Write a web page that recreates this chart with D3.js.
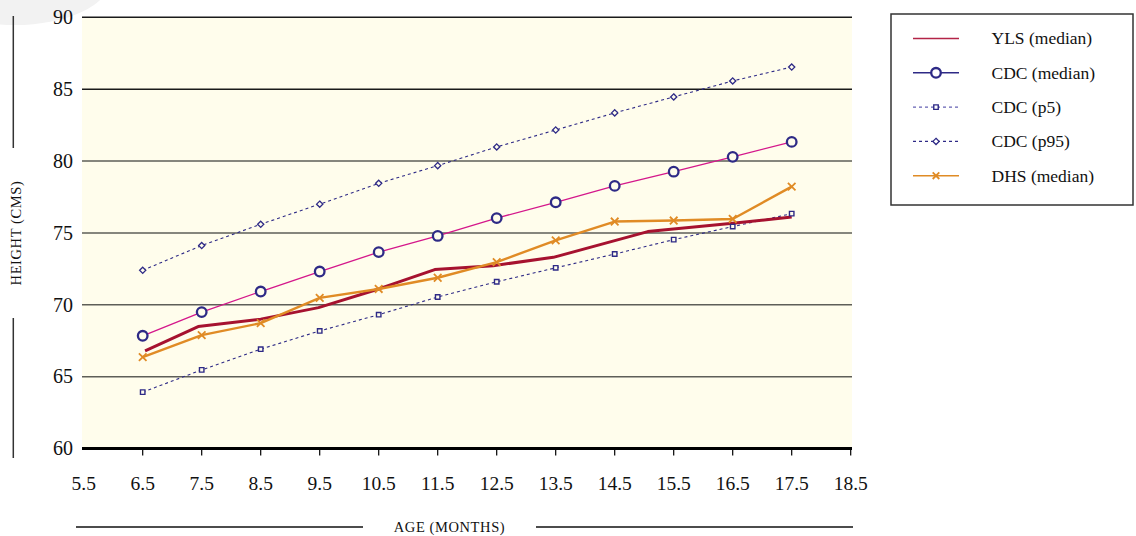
<!DOCTYPE html>
<html><head><meta charset="utf-8">
<script src="https://cdn.jsdelivr.net/npm/d3@7/dist/d3.min.js"></script>
<style>
html,body{margin:0;padding:0;background:#fff;}
svg{display:block;font-family:"Liberation Serif","Times New Roman",serif;}
</style></head>
<body>
<svg id="c" width="1136" height="536"></svg>
<script>
// ---- data ----
const ages = [6.5, 7.5, 8.5, 9.5, 10.5, 11.5, 12.5, 13.5, 14.5, 15.5, 16.5, 17.5];
const cdcMedian = [67.84, 69.49, 70.92, 72.31, 73.66, 74.79, 76.03, 77.13, 78.27, 79.26, 80.29, 81.33];
const cdcP5 = [63.92, 65.47, 66.91, 68.18, 69.31, 70.54, 71.60, 72.57, 73.53, 74.53, 75.44, 76.34];
const cdcP95 = [72.40, 74.12, 75.60, 77.00, 78.45, 79.68, 80.98, 82.16, 83.35, 84.46, 85.57, 86.54];
const dhsMedian = [66.36, 67.89, 68.72, 70.48, 71.10, 71.88, 72.97, 74.48, 75.79, 75.86, 75.97, 78.22];
const ylsAges = [6.54, 7.44, 8.5, 9.48, 10.5, 11.45, 12.44, 13.46, 15.06, 16.5, 17.5];
const ylsMedian = [66.80, 68.48, 69.00, 69.80, 71.10, 72.45, 72.72, 73.30, 75.09, 75.67, 76.10];
const xTicks = [5.5, 6.5, 7.5, 8.5, 9.5, 10.5, 11.5, 12.5, 13.5, 14.5, 15.5, 16.5, 17.5, 18.5];
const yTicks = [60, 65, 70, 75, 80, 85, 90];
const legendLabels = ["YLS (median)", "CDC (median)", "CDC (p5)", "CDC (p95)", "DHS (median)"];
const xTitle = "AGE (MONTHS)";
const yTitle = "HEIGHT (CMS)";

// ---- layout ----
const svg = d3.select("#c");
const plotL = 82, plotR = 852, plotT = 17.3, plotB = 448.5;
const x = d3.scaleLinear().domain([5.5, 18.5]).range([83.7, 850.7]);
const y = d3.scaleLinear().domain([60, 90]).range([plotB, plotT]);

const NAVY = "#2e2a86", MAG = "#d4178b", RED = "#a6122f", ORANGE = "#e08b25";

// decorative grey blob top-left
svg.append("ellipse").attr("cx", 15).attr("cy", -20).attr("rx", 95).attr("ry", 45).attr("fill", "#f2f2f2");

// plot background
svg.append("rect").attr("x", plotL).attr("y", plotT).attr("width", plotR - plotL).attr("height", plotB - plotT)
  .attr("fill", "#fffdec");

// gridlines
svg.append("g").selectAll("line").data(yTicks.filter(d => d > 60)).join("line")
  .attr("x1", plotL).attr("x2", plotR)
  .attr("y1", d => y(d)).attr("y2", d => y(d))
  .attr("stroke", d => d >= 85 ? "#1a1a1a" : "#5e5e58").attr("stroke-width", 1.5);

// baseline
svg.append("line").attr("x1", plotL).attr("x2", plotR).attr("y1", y(60)).attr("y2", y(60))
  .attr("stroke", "#000").attr("stroke-width", 3);

// x ticks
svg.append("g").selectAll("line").data(xTicks.filter(d => d > 5.5)).join("line")
  .attr("x1", d => x(d)).attr("x2", d => x(d))
  .attr("y1", y(60)).attr("y2", y(60) + 7)
  .attr("stroke", "#000").attr("stroke-width", 1.2);

// x tick labels
svg.append("g").selectAll("text").data(xTicks).join("text")
  .attr("x", d => x(d)).attr("y", 490)
  .attr("text-anchor", "middle").attr("font-size", 19.5).attr("fill", "#111")
  .text(d => d.toFixed(1));

// y tick labels
svg.append("g").selectAll("text").data(yTicks).join("text")
  .attr("x", 73).attr("y", d => y(d) + 6.8)
  .attr("text-anchor", "end").attr("font-size", 20).attr("fill", "#111")
  .text(d => d);

// y title + side rules
svg.append("line").attr("x1", 13.3).attr("x2", 13.3).attr("y1", 16).attr("y2", 148).attr("stroke", "#333").attr("stroke-width", 1.5);
svg.append("line").attr("x1", 13.3).attr("x2", 13.3).attr("y1", 318).attr("y2", 458).attr("stroke", "#333").attr("stroke-width", 1.5);
svg.append("text").attr("transform", "translate(21,233) rotate(-90)")
  .attr("text-anchor", "middle").attr("font-size", 14.5).attr("letter-spacing", 0.6).attr("fill", "#111")
  .text(yTitle);

// x title + rules
svg.append("line").attr("x1", 76).attr("x2", 363).attr("y1", 527).attr("y2", 527).attr("stroke", "#111").attr("stroke-width", 1.5);
svg.append("line").attr("x1", 536).attr("x2", 853).attr("y1", 527).attr("y2", 527).attr("stroke", "#111").attr("stroke-width", 1.5);
svg.append("text").attr("x", 449.5).attr("y", 531.5)
  .attr("text-anchor", "middle").attr("font-size", 14.5).attr("letter-spacing", 0.6).attr("fill", "#111")
  .text(xTitle);

// ---- series ----
const line = d3.line().x(d => x(d[0])).y(d => y(d[1]));
const zip = (a, b) => a.map((v, i) => [v, b[i]]);

const gS = svg.append("g");
// CDC p95
gS.append("path").datum(zip(ages, cdcP95)).attr("d", line).attr("fill", "none")
  .attr("stroke", NAVY).attr("stroke-width", 1.1).attr("stroke-dasharray", "3,3");
// CDC p5
gS.append("path").datum(zip(ages, cdcP5)).attr("d", line).attr("fill", "none")
  .attr("stroke", NAVY).attr("stroke-width", 1.1).attr("stroke-dasharray", "3,3");
// CDC median
gS.append("path").datum(zip(ages, cdcMedian)).attr("d", line).attr("fill", "none")
  .attr("stroke", MAG).attr("stroke-width", 1.3);
// YLS
gS.append("path").datum(zip(ylsAges, ylsMedian)).attr("d", line).attr("fill", "none")
  .attr("stroke", RED).attr("stroke-width", 3).attr("stroke-linejoin", "round");
// DHS
gS.append("path").datum(zip(ages, dhsMedian)).attr("d", line).attr("fill", "none")
  .attr("stroke", ORANGE).attr("stroke-width", 2.4).attr("stroke-linejoin", "round");

// markers
const squareSym = d3.symbol().type(d3.symbolSquare).size(20);
const diamondPath = "M0,-3.1L3.1,0L0,3.1L-3.1,0Z";
gS.append("g").selectAll("path").data(zip(ages, cdcP95)).join("path")
  .attr("transform", d => `translate(${x(d[0])},${y(d[1])})`).attr("d", diamondPath)
  .attr("fill", "#fffdec").attr("stroke", NAVY).attr("stroke-width", 1.3);
gS.append("g").selectAll("path").data(zip(ages, cdcP5)).join("path")
  .attr("transform", d => `translate(${x(d[0])},${y(d[1])})`).attr("d", squareSym)
  .attr("fill", "#fffdec").attr("stroke", NAVY).attr("stroke-width", 1.4);
gS.append("g").selectAll("circle").data(zip(ages, cdcMedian)).join("circle")
  .attr("cx", d => x(d[0])).attr("cy", d => y(d[1])).attr("r", 4.8)
  .attr("fill", "#fffdec").attr("stroke", NAVY).attr("stroke-width", 2.3);
const xMark = (g, s) => g.append("path").attr("d", `M${-s},${-s}L${s},${s}M${-s},${s}L${s},${-s}`)
  .attr("stroke", ORANGE).attr("stroke-width", 1.8).attr("fill", "none");
gS.append("g").selectAll("g").data(zip(ages, dhsMedian)).join("g")
  .attr("transform", d => `translate(${x(d[0])},${y(d[1])})`)
  .each(function() { xMark(d3.select(this), 3.8); });

// ---- legend ----
const lg = svg.append("g");
lg.append("rect").attr("x", 891).attr("y", 14).attr("width", 242).attr("height", 191)
  .attr("fill", "#fff").attr("stroke", "#333").attr("stroke-width", 1.5);
const rowY = i => 38.5 + i * 34.3;
const lx1 = 913, lx2 = 959, lmx = 936;
const legStyles = [
  {stroke: "#b32447", dash: null, w: 1.5},
  {stroke: NAVY, dash: null, w: 1.5},
  {stroke: "#6662b4", dash: "3,3", w: 1.3},
  {stroke: NAVY, dash: "3,3", w: 1.1},
  {stroke: ORANGE, dash: null, w: 1.5}
];
legendLabels.forEach((lab, i) => {
  const ry = rowY(i);
  lg.append("line").attr("x1", lx1).attr("x2", lx2).attr("y1", ry).attr("y2", ry)
    .attr("stroke", legStyles[i].stroke).attr("stroke-width", legStyles[i].w)
    .attr("stroke-dasharray", legStyles[i].dash);
  lg.append("text").attr("x", 991.5).attr("y", ry + 5.8).attr("font-size", 17.5).attr("fill", "#111").text(lab);
});
lg.append("circle").attr("cx", lmx).attr("cy", rowY(1)).attr("r", 4.8)
  .attr("fill", "#fff").attr("stroke", NAVY).attr("stroke-width", 2.3);
lg.append("path").attr("transform", `translate(${lmx},${rowY(2)})`).attr("d", squareSym)
  .attr("fill", "#fff").attr("stroke", NAVY).attr("stroke-width", 1.4);
lg.append("path").attr("transform", `translate(${lmx},${rowY(3)})`).attr("d", diamondPath)
  .attr("fill", "#fff").attr("stroke", NAVY).attr("stroke-width", 1.3);
xMark(lg.append("g").attr("transform", `translate(${lmx},${rowY(4)})`), 3.3);
</script>
</body></html>
